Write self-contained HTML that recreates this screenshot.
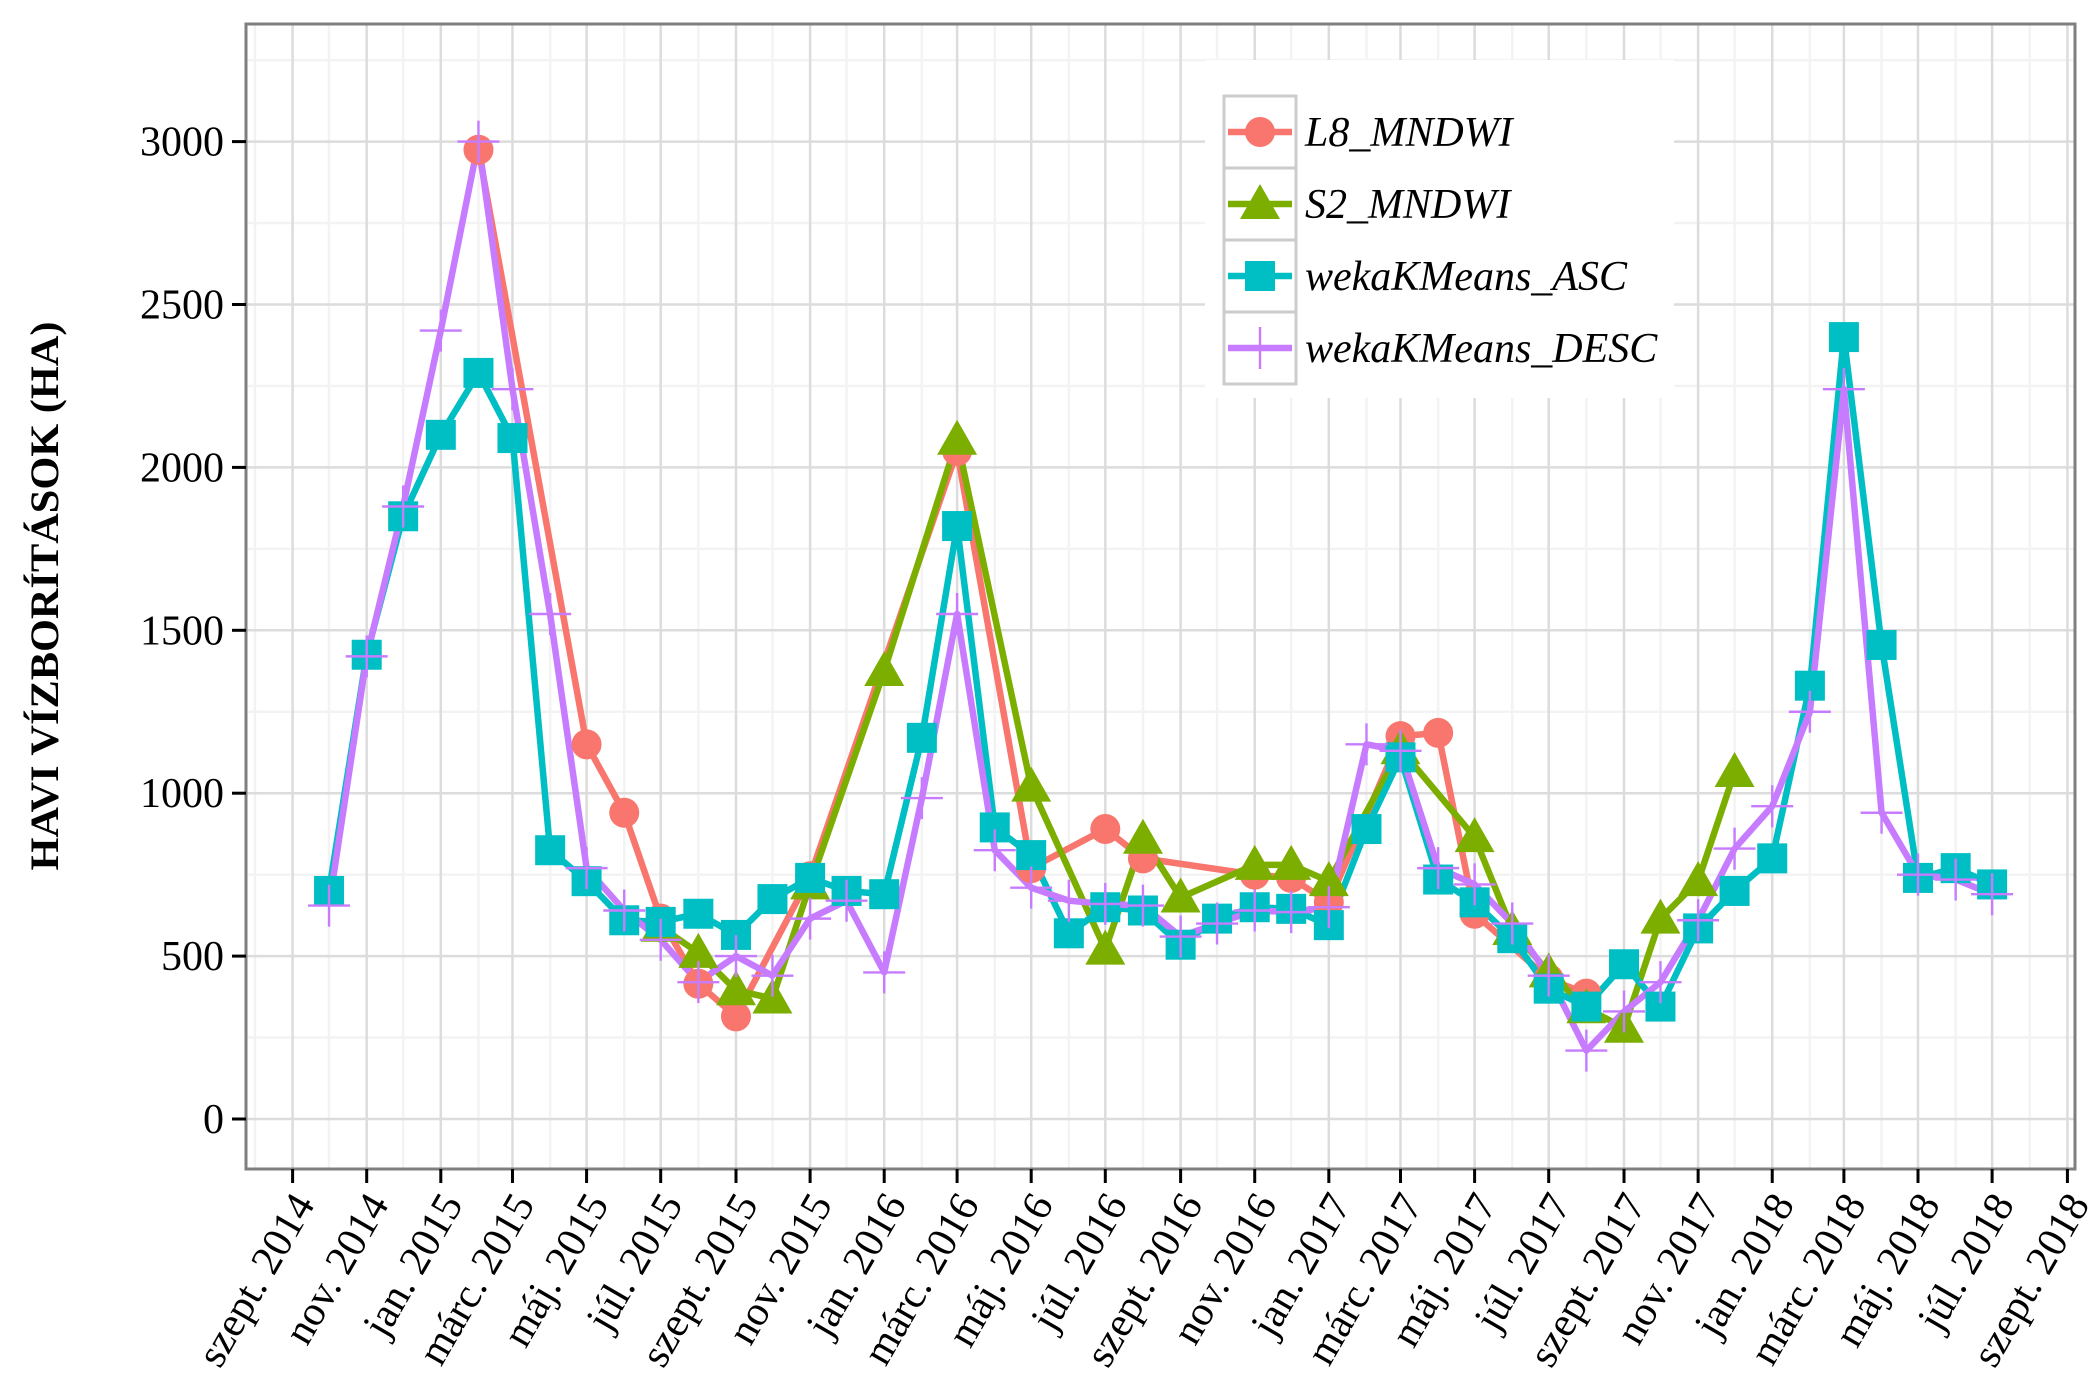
<!DOCTYPE html>
<html><head><meta charset="utf-8">
<style>
html,body{margin:0;padding:0;background:#fff;}
svg{display:block;font-family:"Liberation Serif",serif;}
</style></head>
<body>
<svg id="chart" width="2100" height="1400" viewBox="0 0 2100 1400" xmlns="http://www.w3.org/2000/svg"></svg>
<script>
// months are offsets from Sept 2014 (0 = szept. 2014)
const seriesNames = ["L8_MNDWI","S2_MNDWI","wekaKMeans_ASC","wekaKMeans_DESC"];
const l8Months = [5,8,9,10,11,12,14,18,20,22,23,26,27,28,30,31,32,34,35];
const l8Values = [2975,1150,940,615,415,315,745,2050,770,890,800,750,740,665,1175,1185,630,430,385];
const s2Months = [10,11,12,13,14,16,18,20,22,23,24,26,27,28,30,32,33,34,35,36,37,38,39];
const s2Values = [590,510,395,370,720,1375,2085,1020,520,860,680,780,780,730,1135,865,580,450,340,280,615,730,1065];
const ascMonths = [1,2,3,4,5,6,7,8,9,10,11,12,13,14,15,16,17,18,19,20,21,22,23,24,25,26,27,28,29,30,31,32,33,34,35,36,37,38,39,40,41,42,43,44,45,46];
const ascValues = [700,1425,1850,2100,2290,2090,825,730,610,605,630,565,675,740,700,690,1170,1820,895,810,570,650,640,535,615,650,645,595,890,1110,735,665,555,400,345,475,345,585,700,800,1330,2400,1455,740,770,720];
const descMonths = ascMonths;
const descValues = [655,1420,1880,2420,3000,2240,1550,770,640,550,420,500,440,615,670,450,985,1550,825,710,670,660,655,560,600,640,635,650,1150,1130,770,720,600,440,210,330,420,610,830,960,1250,2240,940,750,735,690];
const yTicks = [0,500,1000,1500,2000,2500,3000];
const xTickLabels = ["szept. 2014","nov. 2014","jan. 2015","márc. 2015","máj. 2015","júl. 2015","szept. 2015","nov. 2015","jan. 2016","márc. 2016","máj. 2016","júl. 2016","szept. 2016","nov. 2016","jan. 2017","márc. 2017","máj. 2017","júl. 2017","szept. 2017","nov. 2017","jan. 2018","márc. 2018","máj. 2018","júl. 2018","szept. 2018"];

const NS="http://www.w3.org/2000/svg";
const svg=document.getElementById('chart');
const P={l:246,r:2075,t:24,b:1169};
const base=Date.UTC(2014,8,1);
function monthDate(m){return Date.UTC(2014,8+m,1);}
function xScale(m){return 292.6+(monthDate(m)-base)/86400000*1.2148;}
function yScale(v){return 1119-v*0.3258;}
function mk(tag,attrs,parent){const e=document.createElementNS(NS,tag);for(const k in attrs)e.setAttribute(k,attrs[k]);(parent||svg).appendChild(e);return e;}

const bg=mk('rect',{x:P.l,y:P.t,width:P.r-P.l,height:P.b-P.t,fill:'#fff'});


const grid=mk('g',{});


for(let v=-250;v<=3500;v+=500){const y=yScale(v);if(y>P.t&&y<P.b)mk('line',{x1:P.l,x2:P.r,y1:y,y2:y,stroke:'#f3f3f3','stroke-width':2.5},grid);}
for(let m=-1;m<=48;m+=2){const x=xScale(m);if(x>P.l&&x<P.r)mk('line',{x1:x,x2:x,y1:P.t,y2:P.b,stroke:'#f3f3f3','stroke-width':2.5},grid);}
yTicks.forEach(v=>{const y=yScale(v);mk('line',{x1:P.l,x2:P.r,y1:y,y2:y,stroke:'#dcdcdc','stroke-width':2.5},grid);});
xTickLabels.forEach((t,i)=>{const x=xScale(i*2);mk('line',{x1:x,x2:x,y1:P.t,y2:P.b,stroke:'#dcdcdc','stroke-width':2.5},grid);});

const colors=['#F8766D','#7CAE00','#00BFC4','#C77CFF'];
const allM=[l8Months,s2Months,ascMonths,descMonths];
const allV=[l8Values,s2Values,ascValues,descValues];
const lineNames=['l8-mndwi-line','s2-mndwi-line','weka-asc-line','weka-desc-line'];
allM.forEach((ms,s)=>{
  const pts=ms.map((m,i)=>xScale(m).toFixed(1)+','+yScale(allV[s][i]).toFixed(1)).join(' ');
  const pl=mk('polyline',{points:pts,fill:'none',stroke:colors[s],'stroke-width':6.5,'stroke-linejoin':'round'});
  
  
});
function marker(s,x,y,parent){
  let e;
  if(s===0)e=mk('circle',{cx:x,cy:y,r:15,fill:colors[0]},parent);
  else if(s===1)e=mk('polygon',{points:`${x},${y-20} ${x+20},${y+15} ${x-20},${y+15}`,fill:colors[1]},parent);
  else if(s===2)e=mk('rect',{x:x-15,y:y-15,width:30,height:30,fill:colors[2]},parent);
  else e=mk('path',{d:`M${x-21},${y}H${x+21}M${x},${y-21}V${y+21}`,stroke:colors[3],'stroke-width':2.4,fill:'none'},parent);
  return e;
}
const ptNames=['l8-point','s2-point','asc-point','desc-point'];
allM.forEach((ms,s)=>{
  const g=mk('g',{});
  
  
  ms.forEach((m,i)=>{const e=marker(s,xScale(m),yScale(allV[s][i]),g);
    
    });
});

const br=mk('rect',{x:P.l,y:P.t,width:P.r-P.l,height:P.b-P.t,fill:'none',stroke:'#7f7f7f','stroke-width':3});



const ya=mk('g',{});


yTicks.forEach(v=>{const y=yScale(v);
  mk('line',{x1:232,x2:P.l,y1:y,y2:y,stroke:'#000','stroke-width':3},ya);
  const t=mk('text',{x:224,y:y+14,'text-anchor':'end','font-size':42,fill:'#000'},ya);t.textContent=v;
  
  });
const xa=mk('g',{});


xTickLabels.forEach((lab,i)=>{const x=xScale(i*2);
  mk('line',{x1:x,x2:x,y1:P.b,y2:P.b+14,stroke:'#000','stroke-width':3},xa);
  const t=mk('text',{x:x+23,y:1204,'text-anchor':'end','font-size':42,fill:'#000',transform:`rotate(-60 ${x+23} 1204)`},xa);t.textContent=lab;
  
  });
const yt=mk('text',{x:0,y:0,'text-anchor':'middle','font-size':40,'font-weight':'bold',fill:'#000',transform:'translate(58 596) rotate(-90)',textLength:549,lengthAdjust:'spacingAndGlyphs'});
yt.textContent='HAVI VÍZBORÍTÁSOK (HA)';



const lg=mk('g',{});


mk('rect',{x:1205,y:60,width:469,height:338,fill:'#fff'},lg);
const rowsY=[96,168,240,312];
seriesNames.forEach((n,s)=>{
  const y0=rowsY[s];const cy=y0+36;
  const e=mk('g',{},lg);
  
  
  mk('rect',{x:1224,y:y0,width:72,height:72,fill:'#fff',stroke:'#cccccc','stroke-width':3},e);
  mk('line',{x1:1228,x2:1292,y1:cy,y2:cy,stroke:colors[s],'stroke-width':6.5},e);
  marker(s,1260,cy,e);
  const t=mk('text',{x:1305,y:cy+14,'font-size':42,'font-style':'italic',fill:'#000'},e);t.textContent=n;
});
</script>
</body></html>
